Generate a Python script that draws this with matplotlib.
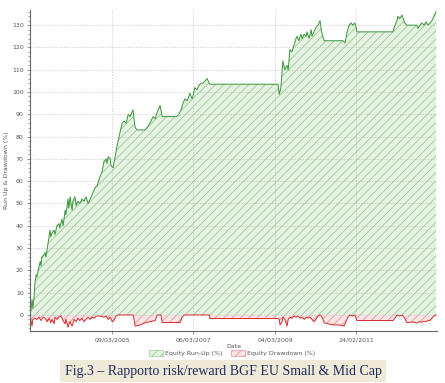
import matplotlib
matplotlib.use("Agg")
import matplotlib.pyplot as plt
import matplotlib.dates as mdates
from matplotlib.patches import Patch
import numpy as np
import datetime as dt

# Equity run-up (%): (decimal year, value)
runup = [(2003.18, 0), (2003.21, 3), (2003.23, 7), (2003.25, 3), (2003.28, 8), (2003.30, 14),
         (2003.33, 18), (2003.35, 17), (2003.38, 20), (2003.43, 24), (2003.45, 22), (2003.47, 26),
         (2003.52, 27), (2003.55, 28), (2003.57, 26), (2003.62, 32), (2003.67, 38), (2003.69, 35),
         (2003.72, 37), (2003.77, 38), (2003.79, 36), (2003.84, 40), (2003.89, 41), (2003.91, 39),
         (2003.96, 43), (2003.99, 40), (2004.04, 47), (2004.06, 45), (2004.11, 52), (2004.13, 48),
         (2004.16, 53), (2004.21, 47), (2004.23, 51), (2004.28, 53), (2004.31, 49), (2004.35, 51),
         (2004.40, 50), (2004.45, 52), (2004.50, 51), (2004.55, 53), (2004.60, 50), (2004.65, 52),
         (2004.70, 54), (2004.77, 57), (2004.82, 58), (2004.89, 62), (2004.94, 64), (2004.99, 69),
         (2005.04, 70), (2005.06, 68), (2005.09, 71), (2005.14, 70), (2005.16, 67), (2005.21, 66),
         (2005.26, 71), (2005.31, 76), (2005.33, 78), (2005.38, 82), (2005.43, 86), (2005.48, 87),
         (2005.53, 86), (2005.58, 90), (2005.63, 89), (2005.67, 91), (2005.70, 92), (2005.72, 88),
         (2005.75, 84), (2005.80, 83), (2005.99, 83), (2006.04, 84), (2006.11, 86), (2006.19, 89),
         (2006.24, 88), (2006.29, 91), (2006.36, 94), (2006.38, 92), (2006.41, 89), (2006.77, 89),
         (2006.82, 90), (2006.87, 92), (2006.92, 95), (2006.97, 97), (2007.02, 96), (2007.09, 99.5),
         (2007.14, 97), (2007.16, 98), (2007.21, 102), (2007.26, 101), (2007.31, 103), (2007.36, 104),
         (2007.41, 104), (2007.46, 105), (2007.51, 106), (2007.56, 104), (2007.58, 103.5),
         (2009.24, 103.5), (2009.27, 99), (2009.31, 102), (2009.36, 114), (2009.41, 110),
         (2009.46, 112), (2009.49, 110), (2009.53, 119), (2009.58, 118), (2009.63, 121),
         (2009.68, 124), (2009.71, 125), (2009.75, 123), (2009.80, 126), (2009.83, 124),
         (2009.88, 126), (2009.93, 125), (2009.95, 127), (2010.00, 124), (2010.05, 128),
         (2010.07, 125), (2010.12, 127), (2010.17, 129), (2010.22, 130), (2010.27, 132),
         (2010.29, 129), (2010.32, 126), (2010.37, 123), (2010.83, 123), (2010.88, 122),
         (2010.93, 127), (2010.98, 130), (2011.03, 131), (2011.07, 130), (2011.12, 131),
         (2011.15, 129), (2011.17, 127), (2012.05, 127), (2012.10, 130), (2012.15, 132),
         (2012.17, 134), (2012.22, 133), (2012.27, 134.5), (2012.32, 132), (2012.34, 131),
         (2012.39, 130), (2012.64, 130), (2012.66, 128.5), (2012.71, 130), (2012.76, 131),
         (2012.81, 130), (2012.86, 131.5), (2012.91, 130), (2012.96, 131), (2013.00, 132),
         (2013.05, 134), (2013.10, 136)]

# Equity drawdown (%): (decimal year, value)
drawdown = [(2003.18, 0), (2003.21, -3), (2003.23, -5), (2003.25, -2), (2003.30, -1.5),
            (2003.35, -2), (2003.40, -1), (2003.45, -2.5), (2003.50, -1), (2003.55, -1.5),
            (2003.60, -3), (2003.65, -1.5), (2003.69, -3.5), (2003.72, -2), (2003.77, -4),
            (2003.79, -1), (2003.84, -2), (2003.89, -1), (2003.94, -0.5), (2003.99, -2.5),
            (2004.04, -4), (2004.06, -2), (2004.11, -5.5), (2004.16, -3), (2004.21, -5),
            (2004.26, -2), (2004.31, -3), (2004.35, -1.5), (2004.40, -2.5), (2004.45, -1.5),
            (2004.50, -3), (2004.55, -2), (2004.60, -1), (2004.65, -2), (2004.70, -1),
            (2004.75, -1.5), (2004.80, -0.5), (2004.89, -0.5), (2004.99, -1), (2005.04, -0.5),
            (2005.09, -2), (2005.14, -1), (2005.19, -3), (2005.23, -2.5), (2005.28, -0.5),
            (2005.33, 0), (2005.70, 0), (2005.75, -5), (2005.87, -4.5), (2005.99, -3.5),
            (2006.11, -3), (2006.24, -2.5), (2006.29, 0), (2006.38, 0), (2006.41, -3.4),
            (2006.85, -3.4), (2006.90, -1), (2006.95, 0), (2007.56, 0), (2007.58, -1.6),
            (2009.24, -1.6), (2009.27, -2), (2009.29, -4.5), (2009.34, -3), (2009.36, -1),
            (2009.41, -2), (2009.46, -5), (2009.49, -2), (2009.53, -1), (2009.58, -1.5),
            (2009.63, -0.5), (2009.68, -1), (2009.73, -0.5), (2009.78, -1.5), (2009.83, -1),
            (2009.88, -2), (2009.93, -1), (2009.98, -1.5), (2010.02, -1), (2010.07, -2),
            (2010.12, -3), (2010.17, -2), (2010.22, -0.5), (2010.27, 0), (2010.32, -1),
            (2010.37, -3.5), (2010.51, -4.2), (2010.63, -4.5), (2010.76, -4.5), (2010.86, -5),
            (2010.90, -3), (2010.95, -1), (2011.00, 0), (2011.05, -0.5), (2011.12, 0),
            (2011.17, -2.5), (2012.05, -2.5), (2012.10, -1.5), (2012.15, 0), (2012.22, -0.5),
            (2012.27, 0), (2012.34, -1.5), (2012.39, -3.4), (2012.52, -3.2), (2012.59, -3.4),
            (2012.64, -3.6), (2012.69, -3), (2012.74, -3.3), (2012.81, -2.8), (2012.86, -3),
            (2012.91, -2.5), (2012.96, -2.4), (2013.00, -1.5), (2013.05, -0.5), (2013.10, 0)]

tick_dates = ["2005-03-09", "2007-03-06", "2009-03-04", "2011-02-24"]
tick_labels = ["09/03/2005", "06/03/2007", "04/03/2009", "24/02/2011"]
caption = "Fig.3 \u2013 Rapporto risk/reward BGF EU Small & Mid Cap"


def to_dates(years):
    out = []
    for y in years:
        yr = int(y)
        out.append(dt.datetime(yr, 1, 1) + dt.timedelta(days=(y - yr) * 365.25))
    return mdates.date2num(out)


plt.rcParams["hatch.linewidth"] = 0.6

fig = plt.figure(figsize=(4.45, 3.83), dpi=100)
ax = fig.add_axes([30 / 445, 1 - 331 / 383, 407 / 445, 321 / 383])

ru_t, ru_v = zip(*runup)
dd_t, dd_v = zip(*drawdown)
tr = to_dates(ru_t)
td = to_dates(dd_t)

ax.fill_between(tr, 0, ru_v, facecolor="#e6f3e3", edgecolor="#98cc92",
                hatch="////", linewidth=0)
ax.plot(tr, ru_v, color="#3a963a", lw=0.7)
ax.fill_between(td, 0, dd_v, facecolor="#fbe5e5", edgecolor="#e99494",
                hatch="////", linewidth=0)
ax.plot(td, dd_v, color="#d92a2a", lw=0.7)

ax.set_xlim(mdates.date2num(dt.datetime(2003, 3, 8)), mdates.date2num(dt.datetime(2013, 2, 16)))
ax.set_ylim(-7.2, 136.8)

xt = mdates.date2num([dt.datetime.strptime(d, "%Y-%m-%d") for d in tick_dates])
ax.set_xticks(xt)
ax.set_xticklabels(tick_labels)
ax.set_yticks(np.arange(0, 131, 10))
ax.set_yticks(np.arange(-6, 137, 2), minor=True)

ax.grid(True, which="major", color="#c4c4c4", linestyle=(0, (2, 2)), linewidth=0.5)
for s in ["top", "right"]:
    ax.spines[s].set_visible(False)
for s in ["left", "bottom"]:
    ax.spines[s].set_color("#666666")
    ax.spines[s].set_linewidth(0.8)

ax.tick_params(axis="both", labelsize=4.5, colors="#666666", labelcolor="#555555",
               length=2.5, width=0.5, pad=2)
ax.tick_params(axis="y", which="minor", length=1.5, width=0.4, colors="#666666")

ax.set_xlabel("Date", fontsize=4.5, color="#555555", labelpad=1)
ax.set_ylabel("Run Up & Drawdown (%)", fontsize=4.5, color="#555555", labelpad=2)

handles = [Patch(facecolor="#e6f3e3", edgecolor="#98cc92", hatch="////", lw=0.5),
           Patch(facecolor="#fbe5e5", edgecolor="#e99494", hatch="////", lw=0.5)]
fig.legend(handles, ["Equity Run-Up (%)", "Equity Drawdown (%)"], loc="center",
           bbox_to_anchor=(232 / 445, 1 - 353 / 383), ncol=2, frameon=False,
           fontsize=4.5, handlelength=2.2, handleheight=1.0, columnspacing=1.5,
           handletextpad=0.3, labelcolor="#555555")

fig.text(223 / 445, 1 - 371 / 383, caption, ha="center", va="center",
         fontsize=10, family="Liberation Serif", color="#1f2a5c",
         bbox=dict(facecolor="#efe9d8", edgecolor="none", pad=3))

fig.savefig("out.png", dpi=100)
